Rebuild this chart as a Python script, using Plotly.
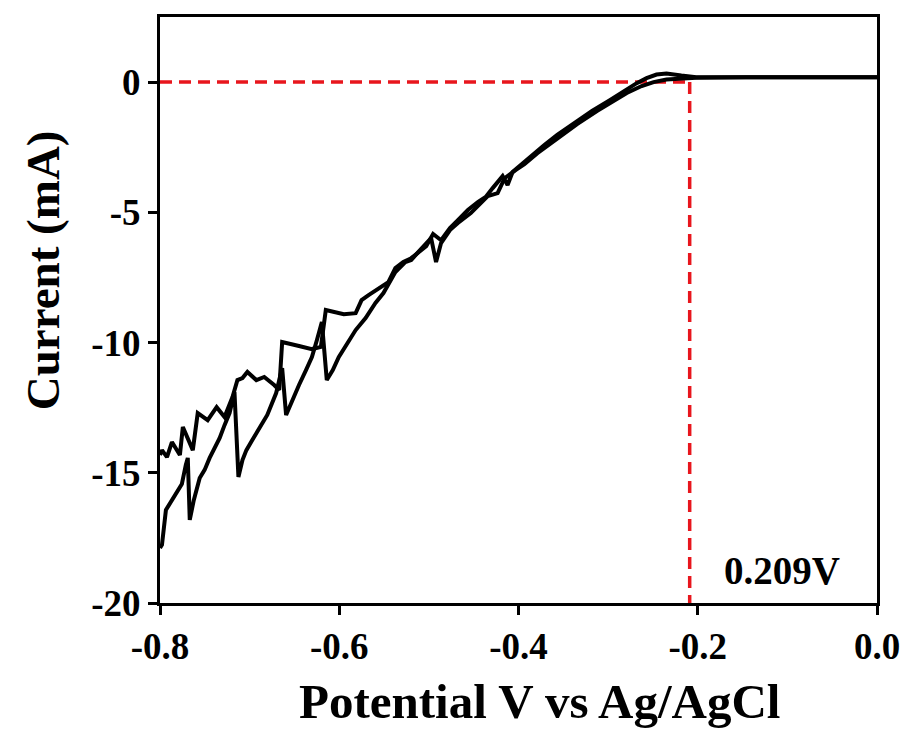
import plotly.graph_objects as go

# Scan A (upper branch), read from right (0 V) to left (-0.8 V)
scan_a_v = [0.0, -0.0355, -0.0909, -0.1352, -0.1684, -0.2017, -0.2183, -0.2349, -0.2460, -0.2571,
            -0.2681, -0.2848, -0.2981, -0.3180, -0.3346, -0.3568, -0.3712, -0.3845, -0.3956, -0.4066,
            -0.4122, -0.4177, -0.4288, -0.4366, -0.4454, -0.4565, -0.4676, -0.4765, -0.4864, -0.4953,
            -0.5030, -0.5119, -0.5197, -0.5285, -0.5374, -0.5452, -0.5529, -0.5673, -0.5751, -0.5817,
            -0.5950, -0.6039, -0.6150, -0.6205, -0.6305, -0.6449, -0.6560, -0.6637, -0.6670, -0.6726,
            -0.6837, -0.6925, -0.7025, -0.7080, -0.7136, -0.7191, -0.7280, -0.7368, -0.7468, -0.7579,
            -0.7634, -0.7745, -0.7778, -0.7867, -0.7922, -0.7978, -0.8]
scan_a_i = [0.19, 0.19, 0.19, 0.19, 0.17, 0.19, 0.25, 0.33, 0.29, 0.15,
            -0.04, -0.38, -0.69, -1.11, -1.50, -2.03, -2.42, -2.80, -3.11, -3.45,
            -3.95, -3.61, -4.07, -4.41, -4.61, -4.91, -5.30, -5.60, -6.07, -5.83,
            -6.30, -6.53, -6.76, -6.91, -7.14, -7.68, -7.87, -8.18, -8.37, -8.87,
            -8.91, -8.83, -8.75, -10.17, -10.25, -10.13, -10.06, -9.98, -11.82, -11.63,
            -11.32, -11.44, -11.13, -11.36, -11.44, -12.09, -12.86, -12.48, -12.98, -12.71,
            -14.13, -13.24, -14.32, -13.82, -14.40, -14.13, -14.32]

# Scan B (lower branch), read from left (-0.8 V) to right (0 V)
scan_b_v = [-0.8, -0.7978, -0.7934, -0.7889, -0.7845, -0.7801, -0.7756, -0.7712, -0.7690, -0.7668,
            -0.7623, -0.7557, -0.7502, -0.7446, -0.7391, -0.7335, -0.7280, -0.7224, -0.7169, -0.7125,
            -0.7080, -0.7036, -0.6970, -0.6892, -0.6803, -0.6704, -0.6637, -0.6593, -0.6526, -0.6449,
            -0.6371, -0.6305, -0.6249, -0.6194, -0.6139, -0.6072, -0.6006, -0.5917, -0.5817, -0.5706,
            -0.5596, -0.5507, -0.5452, -0.5374, -0.5263, -0.5197, -0.5119, -0.4975, -0.4920, -0.4864,
            -0.4765, -0.4676, -0.4532, -0.4454, -0.4343, -0.4233, -0.4155, -0.4033, -0.3934, -0.3789,
            -0.3568, -0.3346, -0.3125, -0.2981, -0.2792, -0.2626, -0.2493, -0.2349, -0.2183, -0.2017,
            -0.1463, -0.0909, 0.0]
scan_b_i = [-17.89, -17.77, -16.43, -16.16, -15.93, -15.66, -15.43, -14.70, -14.43, -16.81,
            -16.05, -15.20, -14.89, -14.43, -14.05, -13.67, -13.17, -12.71, -11.90, -15.16,
            -14.51, -14.13, -13.74, -13.28, -12.78, -11.94, -10.98, -12.78, -12.21, -11.63,
            -11.06, -10.56, -9.90, -9.21, -11.44, -11.06, -10.56, -10.10, -9.52, -9.06,
            -8.48, -8.10, -7.79, -7.29, -6.91, -6.83, -6.53, -5.99, -6.91, -6.18,
            -5.68, -5.41, -5.03, -4.76, -4.38, -4.26, -3.69, -3.38, -3.15, -2.73,
            -2.15, -1.61, -1.11, -0.81, -0.42, -0.15, 0.0, 0.10, 0.15, 0.17,
            0.19, 0.19, 0.19]

onset_v = -0.209
onset_label = "0.209V"
x_ticks = [-0.8, -0.6, -0.4, -0.2, 0.0]
x_tick_text = ["-0.8", "-0.6", "-0.4", "-0.2", "0.0"]
y_ticks = [0, -5, -10, -15, -20]
y_tick_text = ["0", "-5", "-10", "-15", "-20"]
x_title = "Potential V vs Ag/AgCl"
y_title = "Current (mA)"

FONT = "Liberation Serif"
RED = "#e8161d"

fig = go.Figure()
fig.add_trace(go.Scatter(x=[-0.8, onset_v], y=[0, 0], mode="lines",
                         line=dict(color=RED, width=3.5, dash="12px,7px"), showlegend=False))
fig.add_trace(go.Scatter(x=[onset_v, onset_v], y=[0, -20], mode="lines",
                         line=dict(color=RED, width=3.5, dash="12px,7px"), showlegend=False))
fig.add_trace(go.Scatter(x=scan_a_v, y=scan_a_i, mode="lines",
                         line=dict(color="black", width=4), showlegend=False))
fig.add_trace(go.Scatter(x=scan_b_v, y=scan_b_i, mode="lines",
                         line=dict(color="black", width=4), showlegend=False))

fig.add_annotation(x=-0.106, y=-18.75, text="<b>" + onset_label + "</b>", showarrow=False,
                   font=dict(family=FONT, size=39, color="black"))

# axis titles placed as paper-anchored annotations
fig.add_annotation(x=0.529, y=-0.218, xref="paper", yref="paper", text="<b>" + x_title + "</b>",
                   showarrow=False, xanchor="center", yanchor="bottom",
                   font=dict(family=FONT, size=49, color="black"))
fig.add_annotation(x=-0.163, y=0.568, xref="paper", yref="paper", text="<b>" + y_title + "</b>",
                   showarrow=False, xanchor="center", yanchor="middle", textangle=-90,
                   font=dict(family=FONT, size=47, color="black"))

axis_common = dict(showline=True, linecolor="black", linewidth=3, mirror=True,
                   ticks="outside", ticklen=9, tickwidth=3, tickcolor="black",
                   showgrid=False, zeroline=False)

fig.update_xaxes(range=[-0.8, 0.0], tickvals=x_ticks, ticktext=["<b>%s</b>" % t for t in x_tick_text],
                 tickfont=dict(family=FONT, size=37, color="black"), **axis_common)
fig.update_yaxes(range=[-20, 2.5], tickvals=y_ticks, ticktext=["<b>%s</b>" % t for t in y_tick_text],
                 tickfont=dict(family=FONT, size=37, color="black"), **axis_common)

fig.update_layout(width=912, height=734, margin=dict(l=160, r=30, t=17, b=131),
                  plot_bgcolor="white", paper_bgcolor="white")

fig.write_html("out.html")
